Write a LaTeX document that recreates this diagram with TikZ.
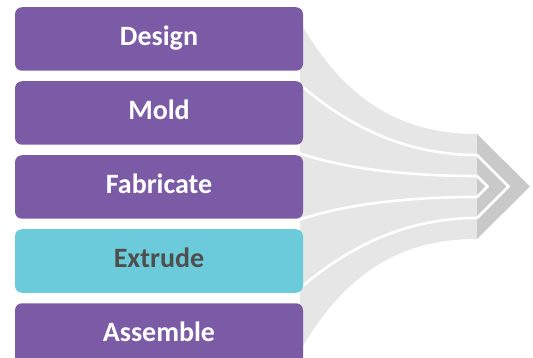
\documentclass[tikz,border=0pt]{standalone}
\usepackage{fontspec}
\setmainfont{Carlito}
\definecolor{purp}{HTML}{7B5BA6}
\definecolor{cyanbox}{HTML}{6BCBDB}
\definecolor{bandgray}{HTML}{E6E6E6}
\definecolor{headgray}{HTML}{C9C9C9}
\definecolor{darktext}{HTML}{4F4F4F}
\begin{document}
\begin{tikzpicture}[x=1pt,y=-1pt,
  stage/.style={rounded corners=7pt, minimum width=288pt, minimum height=63.5pt,
    font=\fontsize{28}{30}\selectfont\bfseries, text=white, fill=purp, inner sep=0pt,
    text height=18pt, text depth=4.5pt},
  hilite/.style={stage, fill=cyanbox, text=darktext},
  sepline/.style={white, line width=2.6pt, line join=miter}]
\useasboundingbox (0,0) rectangle (533,358);
\clip (0,0) rectangle (533,358);
% gray bands
\fill[bandgray] (300,22) .. controls (345,100) and (400,134) .. (477,134)
  -- (477,239) .. controls (400,239) and (345,273) .. (300,351) -- cycle;
% arrow head
\fill[headgray] (477,134) -- (530,186.5) -- (477,239) -- cycle;
% white separators
\coordinate (s1) at (290,76);
\coordinate (s4) at (290,297);
\coordinate (s2) at (290,150);
\coordinate (s3) at (290,223);
\draw[sepline] (s1) .. controls (330,112) and (390,155) .. (477,155) -- (508.5,186.5) -- (477,218)
  .. controls (390,218) and (330,261) .. (s4);
\draw[sepline] (s2) .. controls (330,165) and (390,176) .. (477,176) -- (487.5,186.5) -- (477,197)
  .. controls (390,197) and (330,208) .. (s3);
% boxes
\node[stage] (design) at (159,39) {Design};
\node[stage] (mold) at (159,113) {Mold};
\node[stage] (fabricate) at (159,187) {Fabricate};
\node[hilite] (extrude) at (159,261) {Extrude};
\node[stage] (assemble) at (159,335) {Assemble};
\end{tikzpicture}
\end{document}
